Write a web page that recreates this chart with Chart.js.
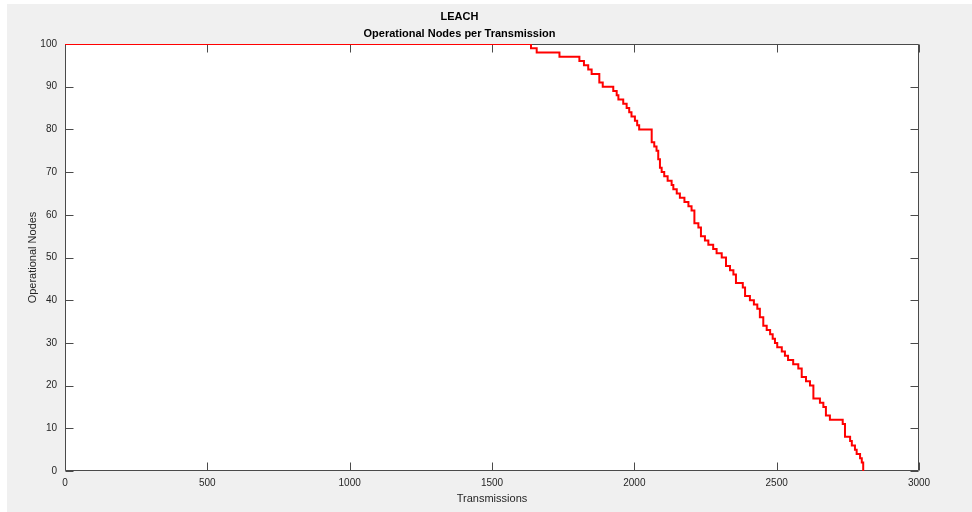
<!DOCTYPE html>
<html>
<head>
<meta charset="utf-8">
<script src="https://cdn.jsdelivr.net/npm/chart.js@4/dist/chart.umd.min.js"></script>
<style>
html,body{margin:0;padding:0;background:#fff;}
#wrap{width:972px;height:512px;position:relative;}
</style>
</head>
<body>
<div id="wrap"><canvas id="c" width="972" height="512"></canvas></div>
<script>
const chartTitle = 'LEACH';
const chartSubtitle = 'Operational Nodes per Transmission';
const xAxisLabel = 'Transmissions';
const yAxisLabel = 'Operational Nodes';
const xTicks = [0, 500, 1000, 1500, 2000, 2500, 3000];
const yTicks = [0, 10, 20, 30, 40, 50, 60, 70, 80, 90, 100];
const transmissions = [0, 1637, 1657, 1737, 1807, 1823, 1838, 1850, 1877, 1889,
  1926, 1938, 1944, 1961, 1973, 1982, 1990, 2002, 2010, 2017,
  2061, 2070, 2078, 2084, 2090, 2096, 2105, 2117, 2131, 2137,
  2149, 2160, 2176, 2190, 2201, 2211, 2225, 2234, 2248, 2260,
  2277, 2289, 2307, 2322, 2336, 2348, 2357, 2381, 2389, 2406,
  2420, 2432, 2441, 2453, 2465, 2477, 2486, 2494, 2502, 2518,
  2529, 2540, 2558, 2576, 2588, 2603, 2617, 2629, 2652, 2664,
  2673, 2687, 2732, 2740, 2758, 2764, 2775, 2781, 2793, 2799, 2804];
const operationalNodes = [100, 99, 98, 97, 96, 95, 94, 93, 91, 90,
  89, 88, 87, 86, 85, 84, 83, 82, 81, 80,
  77, 76, 75, 73, 71, 70, 69, 68, 67, 66,
  65, 64, 63, 62, 61, 58, 57, 55, 54, 53,
  52, 51, 50, 48, 47, 46, 44, 43, 41, 40,
  39, 38, 36, 34, 33, 32, 31, 30, 29, 28,
  27, 26, 25, 24, 22, 21, 20, 17, 16, 15,
  13, 12, 11, 8, 7, 6, 5, 4, 3, 2, 0];

const points = transmissions.map((t, i) => ({x: t, y: operationalNodes[i]}));
const FONT = "'Liberation Sans', Arial, Helvetica, sans-serif";
const AXIS_COLOR = '#4a4a4a';
const TEXT_COLOR = '#262626';

const figurePlugin = {
  id: 'figure',
  beforeDraw(chart) {
    const ctx = chart.ctx, a = chart.chartArea;
    ctx.save();
    ctx.fillStyle = '#ffffff';
    ctx.fillRect(0, 0, chart.width, chart.height);
    ctx.fillStyle = '#f0f0f0';
    ctx.fillRect(7, 4, chart.width - 7, chart.height - 4);
    ctx.fillStyle = '#ffffff';
    ctx.fillRect(a.left, a.top, a.right - a.left, a.bottom - a.top);
    ctx.restore();
  },
  beforeDatasetsDraw(chart) {
    const ctx = chart.ctx, a = chart.chartArea;
    const xs = chart.scales.x, ys = chart.scales.y;
    const L = 8;
    ctx.save();
    ctx.strokeStyle = AXIS_COLOR;
    ctx.lineWidth = 1;
    ctx.beginPath();
    const l = Math.round(a.left) + 0.5, r = Math.round(a.right) - 0.5;
    const t = Math.round(a.top) + 0.5, b = Math.round(a.bottom) - 0.5;
    ctx.rect(l, t, r - l, b - t);
    xTicks.forEach(v => {
      const px = Math.round(xs.getPixelForValue(v)) + 0.5;
      ctx.moveTo(px, b); ctx.lineTo(px, b - L);
      ctx.moveTo(px, t); ctx.lineTo(px, t + L);
    });
    yTicks.forEach(v => {
      const py = Math.round(ys.getPixelForValue(v)) + 0.5;
      ctx.moveTo(l, py); ctx.lineTo(l + L, py);
      ctx.moveTo(r, py); ctx.lineTo(r - L, py);
    });
    ctx.stroke();
    ctx.restore();
  }
};

new Chart(document.getElementById('c'), {
  type: 'line',
  data: {
    datasets: [{
      label: 'Operational Nodes',
      data: points,
      stepped: true,
      borderColor: '#ff0000',
      borderWidth: 2,
      pointRadius: 0,
      fill: false,
      tension: 0
    }]
  },
  options: {
    responsive: false,
    animation: false,
    devicePixelRatio: 1,
    layout: {padding: {left: 0, right: 53, top: 4, bottom: 0}},
    plugins: {
      legend: {display: false},
      tooltip: {enabled: false},
      title: {
        display: true, text: chartTitle, color: '#000',
        font: {family: FONT, size: 11, weight: 'bold', lineHeight: 1.2},
        padding: {top: 6.4, bottom: 0}
      },
      subtitle: {
        display: true, text: chartSubtitle, color: '#000',
        font: {family: FONT, size: 11, weight: 'bold', lineHeight: 1.2},
        padding: {top: 3.8, bottom: 3.4}
      }
    },
    scales: {
      x: {
        type: 'linear', min: 0, max: 3000,
        afterBuildTicks: s => { s.ticks = xTicks.map(v => ({value: v})); },
        afterFit: s => { s.height = 41; },
        grid: {display: false, drawTicks: false},
        border: {display: false},
        ticks: {color: TEXT_COLOR, font: {family: FONT, size: 10}, padding: 6, maxRotation: 0, autoSkip: false,
                callback: v => String(v)},
        title: {display: true, text: xAxisLabel, color: TEXT_COLOR, font: {family: FONT, size: 11}, padding: {top: 0, bottom: 6.4}}
      },
      y: {
        type: 'linear', min: 0, max: 100,
        afterBuildTicks: s => { s.ticks = yTicks.map(v => ({value: v})); },
        afterFit: s => { s.width = 65; },
        grid: {display: false, drawTicks: false},
        border: {display: false},
        ticks: {color: TEXT_COLOR, font: {family: FONT, size: 10}, padding: 8, autoSkip: false,
                callback: v => String(v)},
        title: {display: true, text: yAxisLabel, color: TEXT_COLOR, font: {family: FONT, size: 11}, padding: {top: 26.4, bottom: 0}}
      }
    }
  },
  plugins: [figurePlugin]
});
</script>
</body>
</html>
